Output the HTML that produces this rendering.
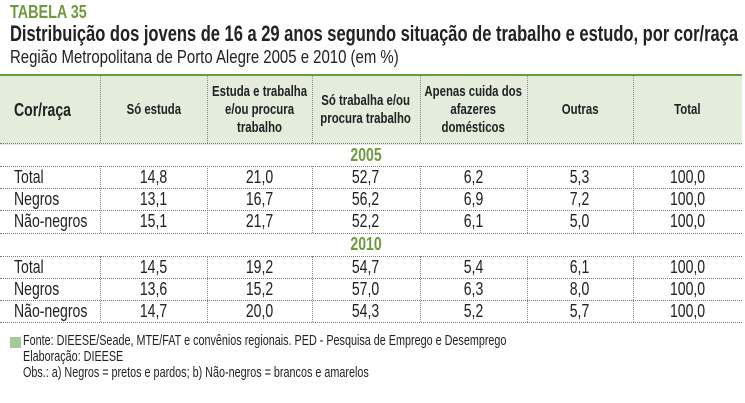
<!DOCTYPE html>
<html><head><meta charset="utf-8"><style>
body{margin:0;width:745px;height:403px;background:#fff;position:relative;overflow:hidden;font-family:"Liberation Sans",sans-serif;color:#222}
.a{position:absolute;white-space:nowrap}
.s{display:inline-block;white-space:nowrap;transform-origin:left center}
.m{display:inline-block;white-space:nowrap;transform-origin:center center;transform:scaleX(0.78)}
.hl{position:absolute;left:0;width:742px;border-top:1px dotted #777;height:0}
.vl{position:absolute;width:0;border-left:1px dotted #888}
.c{position:absolute;text-align:center;font-size:18px;line-height:22px;white-space:nowrap}
.h{position:absolute;text-align:center;font-weight:bold;font-size:15px;line-height:18px;display:flex;align-items:center;justify-content:center;top:76px;height:67px}
.h .m{transform:scaleX(0.76)}
</style></head><body>
<div class="a" style="left:10px;top:2px;font-size:18px;font-weight:bold;color:#6d9a3e"><span class="s" style="transform:scaleX(0.8)">TABELA 35</span></div>
<div class="a" style="left:10px;top:21px;font-size:22px;font-weight:bold;color:#222"><span class="s" style="transform:scaleX(0.75)">Distribuição dos jovens de 16 a 29 anos segundo situação de trabalho e estudo, por cor/raça</span></div>
<div class="a" style="left:10px;top:47px;font-size:18px"><span class="s" style="transform:scaleX(0.83)">Região Metropolitana de Porto Alegre 2005 e 2010 (em %)</span></div>
<div style="position:absolute;left:0;top:74px;width:742px;height:69px;background:#e4ecdc;border-top:2px solid #6d9a3e"></div>
<div class="h" style="left:14px;width:86px;justify-content:flex-start;font-size:18px"><span class="s" style="transform:scaleX(0.78)">Cor/raça</span></div>
<div class="h" style="left:100px;width:107px"><span class="m">Só estuda</span></div>
<div class="h" style="left:207px;width:105px"><span class="m">Estuda e trabalha<br>e/ou procura<br>trabalho</span></div>
<div class="h" style="left:312px;width:108px"><span class="m">Só trabalha e/ou<br>procura trabalho</span></div>
<div class="h" style="left:420px;width:107px"><span class="m">Apenas cuida dos<br>afazeres<br>domésticos</span></div>
<div class="h" style="left:527px;width:106px"><span class="m">Outras</span></div>
<div class="h" style="left:633px;width:109px"><span class="m">Total</span></div>
<div class="vl" style="left:100px;top:76px;height:67px"></div><div class="vl" style="left:207px;top:76px;height:67px"></div><div class="vl" style="left:312px;top:76px;height:67px"></div><div class="vl" style="left:420px;top:76px;height:67px"></div><div class="vl" style="left:527px;top:76px;height:67px"></div><div class="vl" style="left:633px;top:76px;height:67px"></div>
<div class="hl" style="top:143px"></div>
<div class="c" style="left:312px;width:108px;top:144px;font-weight:bold;color:#6d9a3e"><span class="m">2005</span></div>
<div class="hl" style="top:166px"></div><div class="hl" style="top:188px"></div><div class="hl" style="top:210px"></div><div class="hl" style="top:233px"></div>
<div class="c" style="left:312px;width:108px;top:233px;font-weight:bold;color:#6d9a3e"><span class="m">2010</span></div>
<div class="hl" style="top:256px"></div><div class="hl" style="top:278px"></div><div class="hl" style="top:300px"></div><div class="hl" style="top:322px"></div>
<div class="vl" style="left:100px;top:166px;height:67px"></div><div class="vl" style="left:207px;top:166px;height:67px"></div><div class="vl" style="left:312px;top:166px;height:67px"></div><div class="vl" style="left:420px;top:166px;height:67px"></div><div class="vl" style="left:527px;top:166px;height:67px"></div><div class="vl" style="left:633px;top:166px;height:67px"></div>
<div class="vl" style="left:100px;top:256px;height:66px"></div><div class="vl" style="left:207px;top:256px;height:66px"></div><div class="vl" style="left:312px;top:256px;height:66px"></div><div class="vl" style="left:420px;top:256px;height:66px"></div><div class="vl" style="left:527px;top:256px;height:66px"></div><div class="vl" style="left:633px;top:256px;height:66px"></div>
<div id="rows"></div>
<script>
var r=[[166,"Total","14,8","21,0","52,7","6,2","5,3","100,0"],[188,"Negros","13,1","16,7","56,2","6,9","7,2","100,0"],[210,"Não-negros","15,1","21,7","52,2","6,1","5,0","100,0"],[256,"Total","14,5","19,2","54,7","5,4","6,1","100,0"],[278,"Negros","13,6","15,2","57,0","6,3","8,0","100,0"],[300,"Não-negros","14,7","20,0","54,3","5,2","5,7","100,0"]];
var x=[100,207,312,420,527,633,742],h="";
r.forEach(function(a){h+='<div class="c" style="left:14px;top:'+a[0]+'px;text-align:left"><span class="s" style="transform:scaleX(0.78)">'+a[1]+'</span></div>';for(var i=0;i<6;i++)h+='<div class="c" style="left:'+x[i]+'px;width:'+(x[i+1]-x[i])+'px;top:'+a[0]+'px"><span class="m">'+a[i+2]+'</span></div>';});
document.getElementById("rows").innerHTML=h;
</script>
<div style="position:absolute;left:10px;top:337px;width:11px;height:11px;background:#a8c79a"></div>
<div class="a" style="left:23px;top:333px;font-size:15px;line-height:16px"><span class="s" style="transform:scaleX(0.72);transform-origin:left top">Fonte: DIEESE/Seade, MTE/FAT e convênios regionais. PED - Pesquisa de Emprego e Desemprego<br>Elaboração: DIEESE<br>Obs.: a) Negros = pretos e pardos; b) Não-negros = brancos e amarelos</span></div>
</body></html>
